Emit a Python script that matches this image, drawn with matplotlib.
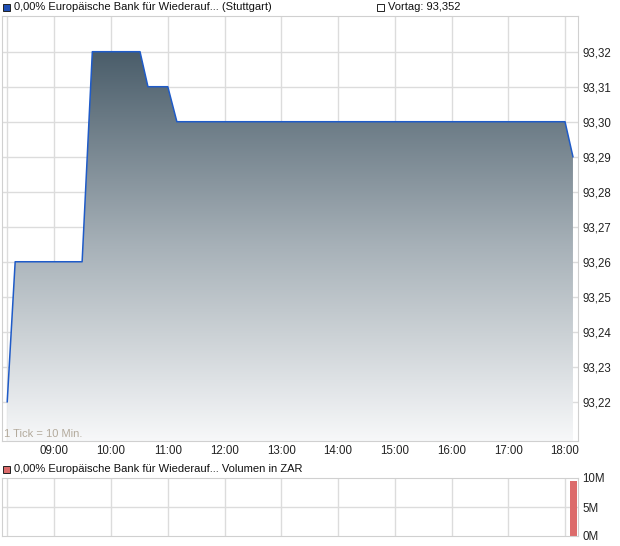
import numpy as np
import matplotlib
matplotlib.use("Agg")
import matplotlib.pyplot as plt
from matplotlib.patches import Rectangle
from matplotlib.colors import LinearSegmentedColormap

# Kursverlauf (Stunden als Dezimalzahl)
zeit = [8.17, 8.31, 9.49, 9.67, 10.51, 10.65, 11.0, 11.16, 18.0, 18.14]
kurs = [93.22, 93.26, 93.26, 93.32, 93.32, 93.31, 93.31, 93.30, 93.30, 93.29]

# Volumen
vol_zeit = [18.15]
vol_wert = [9.5e6]

stunden = list(range(9, 19))
stunden_labels = ["%02d:00" % h for h in stunden]
kurs_ticks = [93.22, 93.23, 93.24, 93.25, 93.26, 93.27, 93.28, 93.29, 93.30, 93.31, 93.32]

W, H = 620, 546
fig = plt.figure(figsize=(W / 100, H / 100), dpi=100)
plt.rcParams['font.family'] = ['Liberation Sans', 'DejaVu Sans']

grid_col = "#dcdcdc"
xmin, xmax = 8.078, 18.229


def fx(px):
    return px / W


def fy(py):
    return 1 - py / H


ax = fig.add_axes([fx(2), fy(441), fx(578) - fx(2), fy(16) - fy(441)])
ax.set_xlim(xmin, xmax)
ax.set_ylim(93.2088, 93.3302)

for h in stunden + [8.17]:
    ax.axvline(h, color=grid_col, lw=1, zorder=0)
for k in kurs_ticks:
    ax.axhline(k, color=grid_col, lw=1, zorder=0)

# Gradient-Füllung unter der Linie
cmap = LinearSegmentedColormap.from_list("g", ["#f7f8f9", "#a7b1b8", "#4a5d6a"])
grad = np.linspace(0, 1, 256).reshape(-1, 1)
img = ax.imshow(grad, cmap=cmap, aspect="auto", origin="lower",
                extent=[xmin, xmax, 93.2088, 93.32], zorder=1)
poly = ax.fill_between(zeit, kurs, 93.2088, color="none", lw=0)
clip = poly.get_paths()[0]
img.set_clip_path(clip, transform=ax.transData)
ax.plot(zeit, kurs, color="#1f5bc8", lw=1.1, zorder=3)

ax.set_xticks(stunden)
ax.set_xticklabels(stunden_labels)
ax.set_yticks(kurs_ticks)
ax.set_yticklabels([("%.2f" % k).replace(".", ",") for k in kurs_ticks])
ax.yaxis.tick_right()
ax.tick_params(axis="both", labelsize=8.3, colors="#222222", length=0)
ax.tick_params(axis="y", pad=3)
ax.tick_params(axis="x", pad=3)
for s in ax.spines.values():
    s.set_color("#d0d0d0")
ax.text(8.11, 93.2095, "1 Tick = 10 Min.", fontsize=8, color="#b3aa9c",
        va="bottom", ha="left", zorder=4)

# Volumen-Panel
av = fig.add_axes([fx(2), fy(536), fx(578) - fx(2), fy(478) - fy(536)])
av.set_xlim(xmin, xmax)
av.set_ylim(0, 10e6)
for h in stunden + [8.17]:
    av.axvline(h, color=grid_col, lw=1, zorder=0)
av.axhline(5e6, color=grid_col, lw=1, zorder=0)
av.bar(vol_zeit, vol_wert, width=0.12, color="#dc6b6b", zorder=2)
av.set_xticks([])
av.set_yticks([0, 5e6, 10e6])
av.set_yticklabels(["0M", "5M", "10M"])
av.yaxis.tick_right()
av.tick_params(axis="y", labelsize=8.3, colors="#222222", length=0, pad=3)
for s in av.spines.values():
    s.set_color("#d0d0d0")

# Legenden-Zeilen
fig.patches.append(Rectangle((fx(3), fy(11)), 7 / W, 7 / H, transform=fig.transFigure,
                             facecolor="#1f4fb4", edgecolor="#222222", lw=0.7))
fig.text(fx(14), fy(6.5), "0,00% Europäische Bank für Wiederauf... (Stuttgart)",
         fontsize=8, va="center", ha="left", color="#111111")
fig.patches.append(Rectangle((fx(377), fy(11)), 7 / W, 7 / H, transform=fig.transFigure,
                             facecolor="white", edgecolor="#222222", lw=0.7))
fig.text(fx(388), fy(6.5), "Vortag: 93,352", fontsize=8, va="center", ha="left",
         color="#111111")
fig.patches.append(Rectangle((fx(3), fy(473)), 7 / W, 7 / H, transform=fig.transFigure,
                             facecolor="#dc6b6b", edgecolor="#222222", lw=0.7))
fig.text(fx(14), fy(468.5), "0,00% Europäische Bank für Wiederauf... Volumen in ZAR",
         fontsize=8, va="center", ha="left", color="#111111")

fig.savefig("out.png", dpi=100)
